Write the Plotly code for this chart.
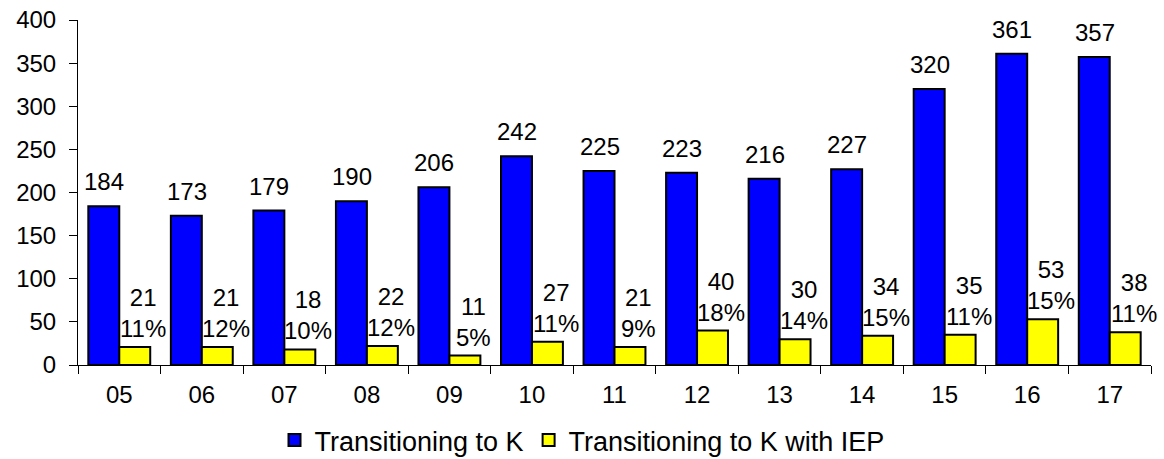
import plotly.graph_objects as go

years = ["05", "06", "07", "08", "09", "10", "11", "12", "13", "14", "15", "16", "17"]
to_k = [184, 173, 179, 190, 206, 242, 225, 223, 216, 227, 320, 361, 357]
to_k_iep = [21, 21, 18, 22, 11, 27, 21, 40, 30, 34, 35, 53, 38]
iep_pct = ["11%", "12%", "10%", "12%", "5%", "11%", "9%", "18%", "14%", "15%", "11%", "15%", "11%"]
series_names = ["Transitioning to K", "Transitioning to K with IEP"]
y_ticks = [0, 50, 100, 150, 200, 250, 300, 350, 400]

FONT = "Liberation Sans, Arial, sans-serif"

fig = go.Figure()
fig.add_trace(go.Bar(x=years, y=to_k, name=series_names[0],
                     marker=dict(color="#0000FF", line=dict(color="black", width=2))))
fig.add_trace(go.Bar(x=years, y=to_k_iep, name=series_names[1],
                     marker=dict(color="#FFFF00", line=dict(color="black", width=2))))

annotations = []
for i, v in enumerate(to_k):
    annotations.append(dict(x=i, y=v, text=str(v), showarrow=False, xshift=-15,
                            yanchor="bottom", yshift=9,
                            font=dict(family=FONT, size=24, color="black")))
for i, (v, p) in enumerate(zip(to_k_iep, iep_pct)):
    annotations.append(dict(x=i, y=v, text=f"{v}<br>{p}", showarrow=False, xshift=24,
                            yanchor="bottom", yshift=3,
                            font=dict(family=FONT, size=24, color="black")))

fig.update_layout(
    width=1164, height=459,
    margin=dict(l=78, r=13, t=20, b=94, autoexpand=False),
    paper_bgcolor="white", plot_bgcolor="white",
    barmode="group", bargap=0.25, bargroupgap=0,
    font=dict(family=FONT, size=24, color="black"),
    showlegend=True,
    legend=dict(orientation="h", x=0.5, xanchor="center", xref="container",
                y=-0.148, yanchor="top", font=dict(size=27), itemwidth=30,
                tracegroupgap=0),
    annotations=annotations,
    xaxis=dict(type="category", range=[-0.5, len(years) - 0.5], automargin=False,
               showline=True, linecolor="black", linewidth=1, ticks="outside",
               tickson="boundaries", ticklen=8, tickcolor="black", showgrid=False,
               ticklabelstandoff=8, tickfont=dict(size=24)),
    yaxis=dict(range=[0, 400], tickvals=y_ticks, showline=True, linecolor="black",
               linewidth=1, ticks="outside", ticklen=8, tickcolor="black",
               showgrid=False, zeroline=False, ticklabelstandoff=8, automargin=False,
               tickfont=dict(size=24)),
)

fig.write_html("out.html", config={"displayModeBar": False},
               post_script="document.body.style.margin='0';document.body.style.overflow='hidden';")
